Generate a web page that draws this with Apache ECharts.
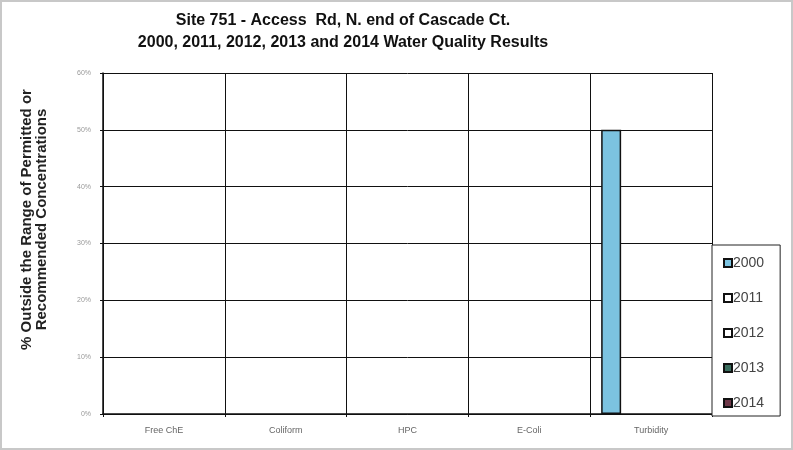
<!DOCTYPE html>
<html>
<head>
<meta charset="utf-8">
<script src="https://cdn.jsdelivr.net/npm/echarts@6/dist/echarts.min.js"></script>
<style>
html,body{margin:0;padding:0;background:#fff;}
#c{width:793px;height:450px;box-sizing:border-box;border:2px solid #c8c8c8;}
</style>
</head>
<body>
<div id="c"></div>
<script>
const categories = ['Free ChE', 'Coliform', 'HPC', 'E-Coli', 'Turbidity'];
const seriesNames = ['2000', '2011', '2012', '2013', '2014'];
const v2000 = [0, 0, 0, 0, 50];
const v2011 = [0, 0, 0, 0, 0];
const v2012 = [0, 0, 0, 0, 0];
const v2013 = [0, 0, 0, 0, 0];
const v2014 = [0, 0, 0, 0, 0];
const yTicks = [0, 10, 20, 30, 40, 50, 60];
const colors = ['#7cc3e0', '#ffffff', '#ffffff', '#3a6e5e', '#6e3848'];

const values = [v2000, v2011, v2012, v2013, v2014];
const chart = echarts.init(document.getElementById('c'));
chart.setOption({
  animation: false,
  title: {
    text: 'Site 751 - Access  Rd, N. end of Cascade Ct.\n2000, 2011, 2012, 2013 and 2014 Water Quality Results',
    left: 336, top: 3, textAlign: 'center',
    textStyle: {fontFamily: 'Liberation Sans', fontSize: 16, fontWeight: 'bold', color: '#111', lineHeight: 22}
  },
  legend: {
    orient: 'vertical', left: 710, top: 243, width: 70,
    itemWidth: 8, itemHeight: 8, itemGap: 21,
    padding: [11, 16, 6, 11],
    borderColor: '#222', borderWidth: 1, backgroundColor: '#fff',
    textStyle: {fontFamily: 'Liberation Sans', fontSize: 14, color: '#444', padding: [0,0,0,-4]},
    icon: 'rect',
    data: seriesNames
  },
  grid: {left: 101, right: 79, top: 71, bottom: 34},
  xAxis: {
    type: 'category', data: categories,
    axisLine: {lineStyle: {color: '#111', width: 1.5}},
    axisTick: {show: true, length: 3, lineStyle: {color: '#111'}},
    axisLabel: {fontFamily: 'Liberation Sans', fontSize: 9, color: '#666', margin: 12},
    splitLine: {show: true, lineStyle: {color: '#111', width: 1}}
  },
  yAxis: {
    type: 'value', min: 0, max: 60, interval: 10,
    name: '% Outside the Range of Permitted or\nRecommended Concentrations',
    nameLocation: 'middle', nameGap: 54, nameRotate: 90,
    nameTextStyle: {fontFamily: 'Liberation Sans', fontSize: 15, fontWeight: 'bold', color: '#222', lineHeight: 15, padding: [0, 0, 0, 48]},
    axisLine: {show: true, lineStyle: {color: '#111', width: 1.5}},
    axisTick: {show: true, length: 3, lineStyle: {color: '#111'}},
    axisLabel: {fontFamily: 'Liberation Sans', fontSize: 7, color: '#999', margin: 12, formatter: v => yTicks.includes(v) ? v + '%' : ''},
    splitLine: {lineStyle: {color: '#111', width: 1}}
  },
  series: seriesNames.map((n, i) => ({
    name: n, type: 'bar',
    data: values[i].map(v => ({value: v, itemStyle: {borderWidth: v === 0 ? 0 : 1.5}})),
    barGap: '0%', barCategoryGap: '18%',
    itemStyle: {color: colors[i], borderColor: '#111', borderWidth: 1.5}
  }))
});
</script>
</body>
</html>
